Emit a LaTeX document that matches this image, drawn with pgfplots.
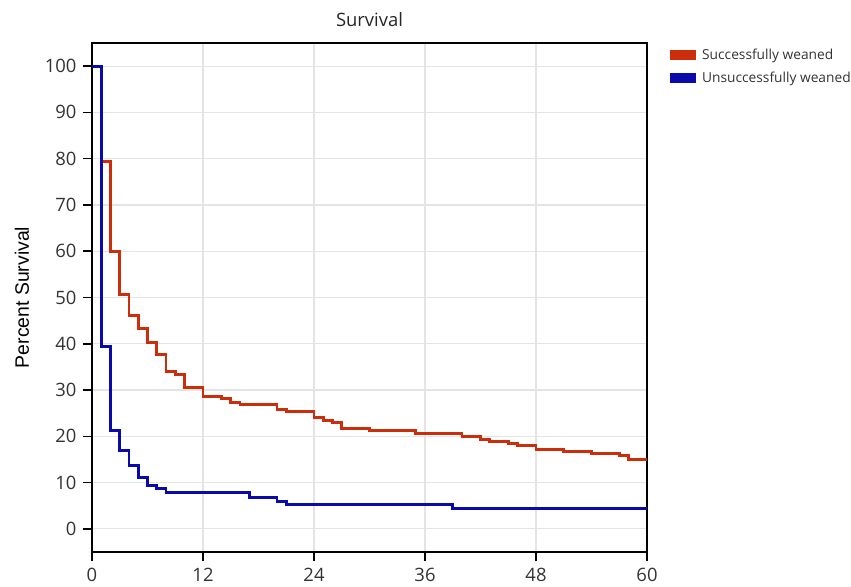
\documentclass[border=0pt]{standalone}
\usepackage{pgfplots}
\pgfplotsset{compat=1.18}
\usepackage{fontspec}
\setmainfont{Open Sans}
\newfontfamily\labelfont{Liberation Sans}
\definecolor{sred}{RGB}{204,45,10}
\definecolor{sblue}{RGB}{10,10,170}
\definecolor{gridgray}{RGB}{228,228,228}

\begin{document}
\begin{tikzpicture}
\begin{axis}[
    scale only axis,
    width=555bp, height=509bp,
    xmin=0, xmax=60, ymin=-5, ymax=105,
    xtick={0,12,24,36,48,60},
    ytick={0,10,...,100},
    xtick pos=bottom, ytick pos=left,
    tick align=outside,
    major tick length=9bp,
    tick style={black, line width=1.6pt},
    axis line style={black, line width=1.6pt},
    grid=major,
    major grid style={gridgray, line width=1.2pt},
    ticklabel style={font=\fontsize{18.5}{20}\selectfont, text=black!80},
    xticklabel style={yshift=-4bp},
    yticklabel style={xshift=-3bp},
    /pgf/number format/assume math mode=true,
    title={Survival},
    title style={font=\fontsize{18.5}{20}\selectfont, text=black!85,
        at={(rel axis cs:0.5,1)}, anchor=center, yshift=17bp},
    ylabel={Percent Survival},
    ylabel style={font=\labelfont\fontsize{19.5}{21}\selectfont,
        at={(rel axis cs:0,0.5)}, anchor=center, yshift=70bp},
    legend style={at={(rel axis cs:1,1)}, anchor=north west, xshift=20bp, yshift=-2bp,
        draw=none, fill=none, font=\fontsize{13.8}{15}\selectfont, row sep=7bp, text=black!80},
    legend cell align=left,
    legend image code/.code={\fill[#1] (0bp,-3.6bp) rectangle (23bp,3.6bp);
        \path (27bp,0bp);},
]
\addplot[const plot, color=sred, line width=3pt] coordinates {
    (0,100) (1,79.3) (2,60.0) (3,50.6) (4,46.2) (5,43.2) (6,40.2) (7,37.6)
    (8,34.0) (9,33.3) (10,30.5) (12,28.7) (14,28.1) (15,27.4) (16,26.9)
    (20,25.9) (21,25.3) (24,24.1) (25,23.5) (26,22.9) (27,21.7) (30,21.2)
    (35,20.7) (40,19.9) (42,19.4) (43,18.9) (45,18.4) (46,18.0) (48,17.2)
    (51,16.8) (54,16.3) (57,15.8) (58,15.0) (60,15.0)
};
\addlegendentry{Successfully weaned}
\addplot[const plot, color=sblue, line width=3pt] coordinates {
    (0,100) (1,39.4) (2,21.2) (3,17.0) (4,13.8) (5,11.0) (6,9.4) (7,8.7)
    (8,7.8) (17,6.8) (20,6.0) (21,5.2) (39,4.3) (60,4.3)
};
\addlegendentry{Unsuccessfully weaned}
\path (rel axis cs:0,0) ++(-92bp,-35bp) coordinate (bbsw);
\path (rel axis cs:1,1) ++(204bp,43bp) coordinate (bbne);
\end{axis}
\pgfresetboundingbox
\path[use as bounding box] (bbsw) rectangle (bbne);
\end{tikzpicture}
\end{document}
